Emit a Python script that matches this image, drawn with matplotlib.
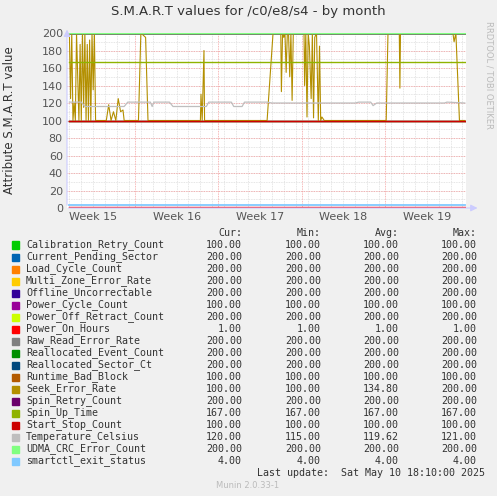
import matplotlib
matplotlib.use("Agg")
import matplotlib.pyplot as plt

# ---- data (x in days from left edge of graph) ----
names = ["Calibration_Retry_Count", "Current_Pending_Sector", "Load_Cycle_Count",
         "Multi_Zone_Error_Rate", "Offline_Uncorrectable", "Power_Cycle_Count",
         "Power_Off_Retract_Count", "Power_On_Hours", "Raw_Read_Error_Rate",
         "Reallocated_Event_Count", "Reallocated_Sector_Ct", "Runtime_Bad_Block",
         "Seek_Error_Rate", "Spin_Retry_Count", "Spin_Up_Time", "Start_Stop_Count",
         "Temperature_Celsius", "UDMA_CRC_Error_Count", "smartctl_exit_status"]
colors = ["#00CC00", "#0066B3", "#FF8000", "#FFCC00", "#330099", "#990099",
          "#CCFF00", "#FF0000", "#808080", "#008F00", "#00487D", "#B35A00",
          "#B38F00", "#6B006B", "#8FB300", "#CC0000", "#BEBEBE", "#80FF80", "#80C9FF"]
cur = [100, 200, 200, 200, 200, 100, 200, 1, 200, 200, 200, 100, 100, 200, 167, 100, 120, 200, 4]
mins = [100, 200, 200, 200, 200, 100, 200, 1, 200, 200, 200, 100, 100, 200, 167, 100, 115, 200, 4]
avgs = [100, 200, 200, 200, 200, 100, 200, 1, 200, 200, 200, 100, 134.80, 200, 167, 100, 119.62, 200, 4]
maxs = [100, 200, 200, 200, 200, 100, 200, 1, 200, 200, 200, 100, 200, 200, 167, 100, 121, 200, 4]

seek_x = [0.0, 0.1, 0.2, 0.3, 0.4, 0.5, 0.6, 0.7, 0.8, 0.9, 1.0, 1.1, 1.2, 1.3, 1.4,
          1.5, 1.6, 1.7, 1.8, 1.9, 2.0, 2.1, 2.2, 2.3, 2.4, 2.5, 2.6, 2.7, 2.8,
          3.1, 3.3, 3.5, 3.7, 3.9, 4.1, 4.3, 4.5, 4.6,
          5.8, 6.0, 6.4, 6.6, 11.0, 11.05, 11.15, 11.3, 11.35, 11.5,
          16.6, 17.1, 17.75, 17.8, 17.9, 18.0, 18.1, 18.2, 18.3, 18.4, 18.5, 18.6,
          18.7, 18.8, 18.9,
          19.7, 19.75, 19.85, 19.95, 20.05, 20.15, 20.3, 20.4, 20.5, 20.6, 20.75,
          20.9, 21.0, 21.1, 21.2, 21.4, 21.5,
          26.6, 26.75, 27.7, 27.75, 27.8, 32.2, 32.3, 32.45, 32.75, 33.2]
seek_y = [200, 125, 200, 100, 120, 100, 200, 150, 100, 187, 100, 200, 115, 200, 100,
          187, 100, 192, 100, 200, 135, 200, 100, 100, 100, 100, 100, 100, 100,
          100, 118, 100, 110, 100, 125, 110, 112, 100,
          100, 200, 195, 100, 100, 130, 100, 180, 100, 100,
          100, 200, 200, 133, 200, 195, 200, 155, 200, 200, 150, 200, 123, 200,
          200,
          200, 140, 200, 104, 200, 185, 125, 200, 103, 195, 200, 100, 185, 100,
          104, 100, 100,
          100, 200, 200, 137, 200, 200, 190, 200, 100, 100]
temp_x = [0.0, 1.0, 1.3, 4.6, 4.9, 6.8, 6.95, 7.1, 8.4, 8.7, 11.5, 11.7, 13.6, 13.8,
          14.5, 14.7, 16.6, 17.0, 24.0, 24.3, 25.3, 25.5, 25.8, 31.5, 31.7, 33.2]
temp_y = [121, 121, 116, 116, 121, 121, 116, 121, 121, 116, 116, 121, 121, 116,
          116, 121, 121, 120, 120, 121, 121, 117, 120, 120, 121, 120]

week_labels = ["Week 15", "Week 16", "Week 17", "Week 18", "Week 19"]
week_mid = [2.0, 9.0, 16.0, 23.0, 30.0]
week_edges = [5.5, 12.5, 19.5, 26.5]
x_end = 33.2

fig = plt.figure(figsize=(4.97, 4.96), dpi=100, facecolor="#F0F0F0")
W, H = 497, 496
ax = fig.add_axes([67 / W, 1 - 208 / H, 399 / W, 175 / H], facecolor="white")
ax.set_xlim(-0.2, x_end + 0.1)
ax.set_ylim(0, 200)

for d in range(0, 34):
    ax.axvline(d, color="#DDDDDD", lw=0.6, ls=(0, (1, 1)), zorder=0)
for v in range(10, 200, 10):
    ax.axhline(v, color="#DDDDDD", lw=0.6, ls=(0, (1, 1)), zorder=0)
for v in range(20, 201, 20):
    ax.axhline(v, color="#F4A0A0", lw=0.6, ls=(0, (1, 1)), zorder=0)
for e in week_edges:
    ax.axvline(e, color="#F4A0A0", lw=0.6, ls=(0, (1, 1)), zorder=0)

for i, n in enumerate(names):
    if n == "Seek_Error_Rate":
        ax.plot(seek_x, seek_y, color=colors[i], lw=0.8, zorder=2)
    elif n == "Temperature_Celsius":
        ax.plot(temp_x, temp_y, color=colors[i], lw=0.9, zorder=2)
    else:
        ax.plot([0, x_end], [cur[i], cur[i]], color=colors[i],
                lw=1.3 if n == "smartctl_exit_status" else 1.0,
                zorder=3 if n == "Start_Stop_Count" else 2)

ax.set_xticks(week_mid)
ax.set_xticklabels(week_labels)
ax.set_yticks(range(0, 201, 20))
ax.tick_params(length=0, labelsize=8, colors="#555555", pad=3)
for s in ax.spines.values():
    s.set_visible(False)
ax.annotate("", xy=(x_end + 1.3, 0), xytext=(-0.3, 0),
            arrowprops=dict(arrowstyle="-|>", color="#CCCCFF", lw=0.8), annotation_clip=False)
ax.annotate("", xy=(-0.2, 207), xytext=(-0.2, 0),
            arrowprops=dict(arrowstyle="-|>", color="#CCCCFF", lw=0.8), annotation_clip=False)

fig.text(248 / W, 1 - 12 / H, "S.M.A.R.T values for /c0/e8/s4 - by month",
         ha="center", va="center", fontsize=9.5, color="#333333")
fig.text(10 / W, 1 - 120 / H, "Attribute S.M.A.R.T value", rotation=90,
         ha="center", va="center", fontsize=8.5, color="#333333")
fig.text(489 / W, 1 - 75 / H, "RRDTOOL / TOBI OETIKER", rotation=270,
         ha="center", va="center", fontsize=6, color="#BBBBBB")

mono = "DejaVu Sans Mono"
fs = 7.2
cols = [242, 321, 399, 477]
for c, h in zip(cols, ["Cur:", "Min:", "Avg:", "Max:"]):
    fig.text(c / W, 1 - 233 / H, h, ha="right", va="center", family=mono,
             fontsize=fs, color="#333333")
for i, n in enumerate(names):
    y = 1 - (245 + 12 * i) / H
    fig.patches.append(plt.Rectangle((12 / W, y - 3.5 / H), 7 / W, 7 / H,
                                     transform=fig.transFigure, color=colors[i]))
    fig.text(26 / W, y, n, va="center", family=mono, fontsize=fs, color="#333333")
    for c, vals in zip(cols, [cur, mins, avgs, maxs]):
        fig.text(c / W, y, f"{vals[i]:.2f}", ha="right", va="center",
                 family=mono, fontsize=fs, color="#333333")
fig.text(485 / W, 1 - 473 / H, "Last update:  Sat May 10 18:10:00 2025", ha="right",
         va="center", family=mono, fontsize=fs, color="#333333")
fig.text(248 / W, 1 - 486 / H, "Munin 2.0.33-1", ha="center", va="center",
         fontsize=6, color="#BBBBBB")

fig.savefig("out.png", dpi=100, facecolor="#F0F0F0")
